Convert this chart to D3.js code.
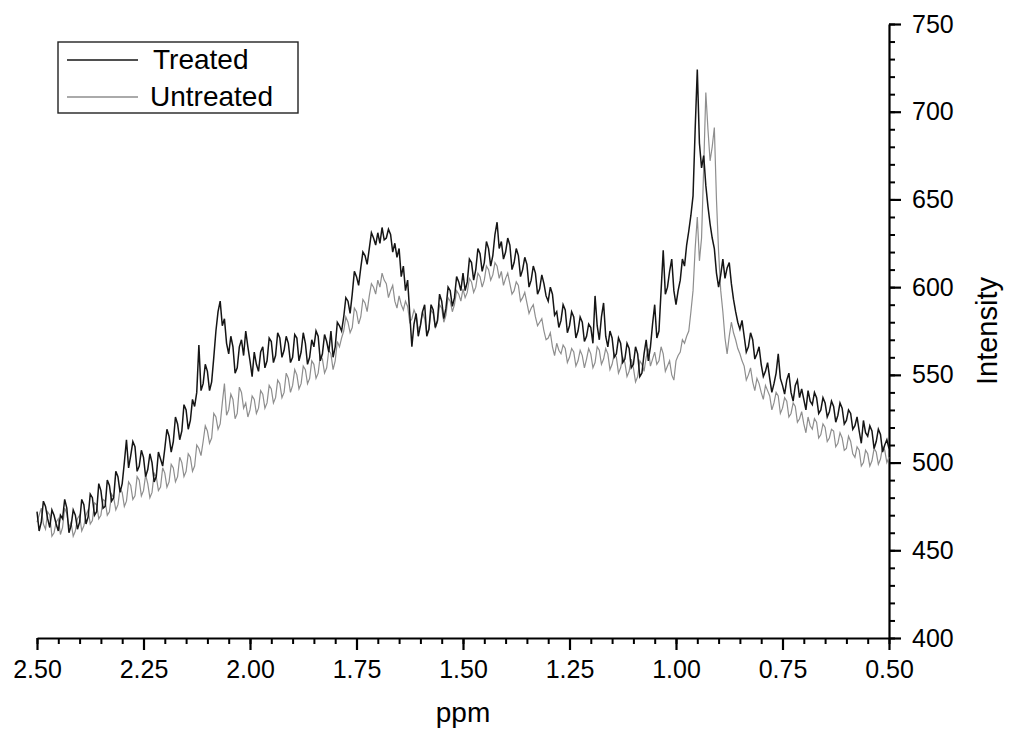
<!DOCTYPE html>
<html>
<head>
<meta charset="utf-8">
<script src="https://cdn.jsdelivr.net/npm/d3@7"></script>
<style>
    body { margin: 0; background: #fff; }
    text { font-family: "Liberation Sans", Arial, sans-serif; fill: #000; }
</style>
</head>
<body>
<script>
'use strict';

// chemical shift grid (ppm), one row = 0.1 ppm
const ppm = [
    2.500, 2.495, 2.490, 2.485, 2.480, 2.475, 2.470, 2.465, 2.460, 2.455, 2.450, 2.445, 2.440, 2.435, 2.430, 2.425, 2.420, 2.415, 2.410, 2.405,
    2.400, 2.395, 2.390, 2.385, 2.380, 2.375, 2.370, 2.365, 2.360, 2.355, 2.350, 2.345, 2.340, 2.335, 2.330, 2.325, 2.320, 2.315, 2.310, 2.305,
    2.300, 2.295, 2.290, 2.285, 2.280, 2.275, 2.270, 2.265, 2.260, 2.255, 2.250, 2.245, 2.240, 2.235, 2.230, 2.225, 2.220, 2.215, 2.210, 2.205,
    2.200, 2.195, 2.190, 2.185, 2.180, 2.175, 2.170, 2.165, 2.160, 2.155, 2.150, 2.145, 2.140, 2.135, 2.130, 2.125, 2.120, 2.115, 2.110, 2.105,
    2.100, 2.095, 2.090, 2.085, 2.080, 2.075, 2.070, 2.065, 2.060, 2.055, 2.050, 2.045, 2.040, 2.035, 2.030, 2.025, 2.020, 2.015, 2.010, 2.005,
    2.000, 1.995, 1.990, 1.985, 1.980, 1.975, 1.970, 1.965, 1.960, 1.955, 1.950, 1.945, 1.940, 1.935, 1.930, 1.925, 1.920, 1.915, 1.910, 1.905,
    1.900, 1.895, 1.890, 1.885, 1.880, 1.875, 1.870, 1.865, 1.860, 1.855, 1.850, 1.845, 1.840, 1.835, 1.830, 1.825, 1.820, 1.815, 1.810, 1.805,
    1.800, 1.795, 1.790, 1.785, 1.780, 1.775, 1.770, 1.765, 1.760, 1.755, 1.750, 1.745, 1.740, 1.735, 1.730, 1.725, 1.720, 1.715, 1.710, 1.705,
    1.700, 1.695, 1.690, 1.685, 1.680, 1.675, 1.670, 1.665, 1.660, 1.655, 1.650, 1.645, 1.640, 1.635, 1.630, 1.625, 1.620, 1.615, 1.610, 1.605,
    1.600, 1.595, 1.590, 1.585, 1.580, 1.575, 1.570, 1.565, 1.560, 1.555, 1.550, 1.545, 1.540, 1.535, 1.530, 1.525, 1.520, 1.515, 1.510, 1.505,
    1.500, 1.495, 1.490, 1.485, 1.480, 1.475, 1.470, 1.465, 1.460, 1.455, 1.450, 1.445, 1.440, 1.435, 1.430, 1.425, 1.420, 1.415, 1.410, 1.405,
    1.400, 1.395, 1.390, 1.385, 1.380, 1.375, 1.370, 1.365, 1.360, 1.355, 1.350, 1.345, 1.340, 1.335, 1.330, 1.325, 1.320, 1.315, 1.310, 1.305,
    1.300, 1.295, 1.290, 1.285, 1.280, 1.275, 1.270, 1.265, 1.260, 1.255, 1.250, 1.245, 1.240, 1.235, 1.230, 1.225, 1.220, 1.215, 1.210, 1.205,
    1.200, 1.195, 1.190, 1.185, 1.180, 1.175, 1.170, 1.165, 1.160, 1.155, 1.150, 1.145, 1.140, 1.135, 1.130, 1.125, 1.120, 1.115, 1.110, 1.105,
    1.100, 1.095, 1.090, 1.085, 1.080, 1.075, 1.070, 1.065, 1.060, 1.055, 1.050, 1.045, 1.040, 1.035, 1.030, 1.025, 1.020, 1.015, 1.010, 1.005,
    1.000, 0.995, 0.990, 0.985, 0.980, 0.975, 0.970, 0.965, 0.960, 0.955, 0.950, 0.945, 0.940, 0.935, 0.930, 0.925, 0.920, 0.915, 0.910, 0.905,
    0.900, 0.895, 0.890, 0.885, 0.880, 0.875, 0.870, 0.865, 0.860, 0.855, 0.850, 0.845, 0.840, 0.835, 0.830, 0.825, 0.820, 0.815, 0.810, 0.805,
    0.800, 0.795, 0.790, 0.785, 0.780, 0.775, 0.770, 0.765, 0.760, 0.755, 0.750, 0.745, 0.740, 0.735, 0.730, 0.725, 0.720, 0.715, 0.710, 0.705,
    0.700, 0.695, 0.690, 0.685, 0.680, 0.675, 0.670, 0.665, 0.660, 0.655, 0.650, 0.645, 0.640, 0.635, 0.630, 0.625, 0.620, 0.615, 0.610, 0.605,
    0.600, 0.595, 0.590, 0.585, 0.580, 0.575, 0.570, 0.565, 0.560, 0.555, 0.550, 0.545, 0.540, 0.535, 0.530, 0.525, 0.520, 0.515, 0.510, 0.505,
    0.500
]

const treated = [
    472, 461, 466, 478, 475, 468, 463, 473, 470, 465, 461, 470, 468, 479, 474, 460, 464, 473, 470, 462,
    466, 479, 476, 465, 469, 482, 480, 470, 472, 488, 484, 474, 475, 490, 487, 478, 480, 495, 492, 483,
    488, 500, 513, 497, 504, 512, 509, 495, 498, 507, 503, 492, 496, 505, 500, 489, 492, 506, 502, 498,
    508, 519, 515, 506, 512, 526, 522, 513, 518, 533, 530, 519, 524, 536, 532, 540, 567, 541, 545, 556,
    552, 541, 546, 560, 575, 586, 592, 578, 582, 568, 562, 572, 566, 551, 554, 566, 570, 561, 575, 566,
    558, 549, 563, 556, 552, 563, 566, 554, 558, 571, 569, 557, 561, 574, 571, 560, 564, 572, 568, 557,
    560, 573, 571, 558, 563, 574, 568, 556, 560, 570, 566, 575, 572, 558, 562, 573, 569, 563, 575, 560,
    566, 580, 578, 575, 583, 594, 592, 585, 596, 609, 606, 601, 611, 620, 618, 613, 622, 631, 628, 624,
    631, 625, 634, 627, 628, 633, 630, 620, 625, 617, 622, 606, 612, 598, 604, 585, 566, 579, 585, 572,
    578, 586, 590, 572, 576, 590, 587, 577, 581, 596, 592, 582, 588, 600, 598, 589, 594, 606, 603, 598,
    608, 598, 603, 616, 614, 604, 610, 622, 619, 609, 614, 626, 622, 612, 618, 630, 637, 622, 626, 616,
    620, 628, 624, 610, 614, 622, 618, 606, 610, 617, 613, 600, 604, 612, 608, 596, 599, 607, 602, 595,
    592, 600, 596, 584, 586, 577, 581, 590, 587, 574, 578, 586, 583, 571, 575, 583, 580, 569, 572, 579,
    577, 568, 595, 578, 570, 583, 591, 572, 566, 575, 571, 560, 562, 571, 568, 557, 559, 568, 565, 554,
    556, 566, 562, 549, 551, 562, 570, 558, 566, 579, 590, 571, 575, 598, 621, 596, 600, 609, 616, 598,
    590, 598, 604, 616, 612, 624, 632, 641, 652, 690, 724, 682, 668, 675, 658, 646, 636, 628, 622, 608,
    600, 607, 616, 605, 611, 614, 602, 593, 586, 580, 576, 581, 572, 563, 566, 574, 570, 559, 562, 566,
    556, 549, 552, 557, 548, 540, 545, 551, 562, 548, 544, 539, 547, 551, 540, 535, 544, 547, 537, 542,
    536, 530, 541, 535, 533, 540, 537, 528, 530, 537, 534, 526, 529, 535, 532, 523, 527, 534, 531, 522,
    524, 530, 528, 519, 521, 526, 518, 511, 524, 517, 515, 521, 518, 508, 512, 519, 516, 506, 510, 513,
    508
]

const untreated = [
    466, 470, 474, 465, 462, 472, 470, 458, 460, 466, 468, 459, 463, 474, 471, 463, 466, 458, 461, 468,
    470, 461, 464, 470, 473, 465, 467, 477, 476, 468, 470, 479, 478, 470, 472, 482, 480, 473, 476, 485,
    483, 475, 478, 489, 487, 479, 481, 492, 490, 481, 484, 493, 488, 480, 483, 494, 492, 484, 486, 497,
    494, 486, 489, 499, 497, 489, 492, 503, 500, 492, 495, 505, 503, 495, 498, 510, 508, 504, 512, 521,
    518, 511, 514, 528, 526, 519, 522, 534, 545, 527, 530, 539, 536, 525, 528, 543, 540, 531, 534, 526,
    530, 538, 536, 528, 531, 541, 539, 531, 534, 544, 542, 534, 537, 547, 545, 537, 540, 551, 548, 540,
    544, 553, 550, 542, 545, 555, 553, 545, 548, 558, 556, 548, 551, 561, 559, 551, 554, 564, 562, 553,
    558, 569, 566, 571, 575, 583, 580, 574, 577, 588, 586, 579, 583, 593, 591, 586, 595, 602, 600, 596,
    604, 600, 608, 604, 602, 594, 598, 601, 592, 588, 595, 590, 587, 592, 589, 580, 582, 587, 584, 576,
    578, 586, 582, 573, 576, 587, 585, 577, 580, 590, 588, 580, 584, 594, 592, 586, 590, 598, 596, 592,
    599, 594, 597, 605, 603, 597, 600, 608, 606, 600, 604, 612, 610, 604, 607, 614, 612, 605, 609, 601,
    605, 608, 602, 596, 598, 603, 601, 592, 594, 597, 591, 585, 588, 590, 583, 578, 580, 582, 575, 570,
    571, 574, 566, 561, 568, 564, 562, 567, 565, 557, 560, 565, 563, 555, 558, 564, 561, 554, 559, 565,
    562, 554, 557, 566, 564, 556, 559, 565, 562, 553, 556, 562, 560, 551, 554, 560, 557, 549, 552, 559,
    554, 546, 549, 558, 556, 552, 560, 565, 555, 559, 563, 556, 558, 566, 562, 552, 555, 558, 550, 547,
    558, 561, 563, 570, 568, 572, 575, 586, 598, 622, 640, 615, 628, 668, 711, 690, 672, 680, 691, 650,
    620, 598, 586, 571, 562, 572, 580, 574, 570, 565, 562, 558, 555, 547, 550, 554, 546, 541, 548, 545,
    540, 536, 544, 541, 538, 530, 534, 540, 538, 528, 531, 537, 535, 526, 528, 534, 532, 523, 525, 529,
    522, 517, 526, 521, 519, 525, 523, 514, 516, 522, 520, 512, 514, 519, 518, 509, 511, 517, 514, 507,
    508, 515, 512, 505, 503, 509, 507, 498, 500, 507, 505, 498, 501, 508, 506, 499, 502, 509, 507, 500,
    503
]

const xTicks = [2.50, 2.25, 2.00, 1.75, 1.50, 1.25, 1.00, 0.75, 0.50]
const yTicks = [400, 450, 500, 550, 600, 650, 700, 750]
const seriesNames = ["Treated", "Untreated"]

;(function() {

    let svg = ""

    const plot = {
        left: 37,
        right: 889,
        top: 24,
        bottom: 638
    }

    window.onload = function() {
        svg = d3.select("body").append("svg")
            .attr("width", 1009)
            .attr("height", 731)

        let x = d3.scaleLinear()
            .domain([2.5, 0.5])
            .range([plot.left, plot.right])

        let y = d3.scaleLinear()
            .domain([400, 750])
            .range([plot.bottom, plot.top])

        drawAxes(x, y)
        drawLines(x, y)
        drawLegend()
    }

    function drawAxes(x, y) {
        // minor ticks first, majors drawn on top
        let xMinor = d3.range(0, 41).map(i => 2.5 - i * 0.05)
        let yMinor = d3.range(0, 36).map(i => 400 + i * 10)

        svg.append("g")
            .attr("transform", "translate(0," + plot.bottom + ")")
            .call(d3.axisBottom(x).tickValues(xMinor).tickSize(6).tickFormat(""))
            .call(g => g.select(".domain").remove())
            .selectAll("line").attr("stroke-width", 2)

        svg.append("g")
            .attr("transform", "translate(" + plot.right + ",0)")
            .call(d3.axisRight(y).tickValues(yMinor).tickSize(6).tickFormat(""))
            .call(g => g.select(".domain").remove())
            .selectAll("line").attr("stroke-width", 2)

        let xAxis = svg.append("g")
            .attr("transform", "translate(0," + plot.bottom + ")")
            .call(d3.axisBottom(x).tickValues(xTicks).tickSize(12).tickSizeOuter(0)
                .tickPadding(10).tickFormat(d3.format(".2f")))
        xAxis.select(".domain").attr("stroke-width", 2.2)
        xAxis.selectAll("line").attr("stroke-width", 2.2)
        xAxis.selectAll("text").attr("font-size", 25).attr("font-family", null)

        let yAxis = svg.append("g")
            .attr("transform", "translate(" + plot.right + ",0)")
            .call(d3.axisRight(y).tickValues(yTicks).tickSize(12).tickSizeOuter(0)
                .tickPadding(11).tickFormat(d3.format("d")))
        yAxis.select(".domain").attr("stroke-width", 2.2)
        yAxis.selectAll("line").attr("stroke-width", 2.2)
        yAxis.selectAll("text").attr("font-size", 25).attr("font-family", null)

        svg.append("text")
            .attr("x", 463)
            .attr("y", 722)
            .attr("text-anchor", "middle")
            .attr("font-size", 28)
            .text("ppm")

        svg.append("text")
            .attr("transform", "translate(997,331) rotate(-90)")
            .attr("text-anchor", "middle")
            .attr("font-size", 29)
            .text("Intensity")
    }

    function drawLines(x, y) {
        let line = d3.line()
            .x((d, i) => x(ppm[i]))
            .y(d => y(d))

        svg.append("path")
            .datum(untreated)
            .attr("fill", "none")
            .attr("stroke", "#8e8e8e")
            .attr("stroke-width", 1.2)
            .attr("d", line)

        svg.append("path")
            .datum(treated)
            .attr("fill", "none")
            .attr("stroke", "#151515")
            .attr("stroke-width", 1.5)
            .attr("d", line)
    }

    function drawLegend() {
        let lg = svg.append("g")

        lg.append("rect")
            .attr("x", 58)
            .attr("y", 42)
            .attr("width", 240)
            .attr("height", 71)
            .attr("fill", "#fff")
            .attr("stroke", "#222")
            .attr("stroke-width", 1.4)

        let colors = ["#151515", "#8e8e8e"]
        let rows = lg.selectAll(".row")
            .data(seriesNames)
            .enter()
            .append("g")
            .attr("transform", (d, i) => "translate(0," + (i * 37) + ")")

        rows.append("line")
            .attr("x1", 67)
            .attr("x2", 138)
            .attr("y1", 60)
            .attr("y2", 60)
            .attr("stroke", (d, i) => colors[i])
            .attr("stroke-width", 1.4)

        rows.append("text")
            .attr("x", (d, i) => i == 0 ? 153 : 150)
            .attr("y", 69)
            .attr("font-size", 28)
            .text(d => d)
    }
})()
</script>
</body>
</html>
